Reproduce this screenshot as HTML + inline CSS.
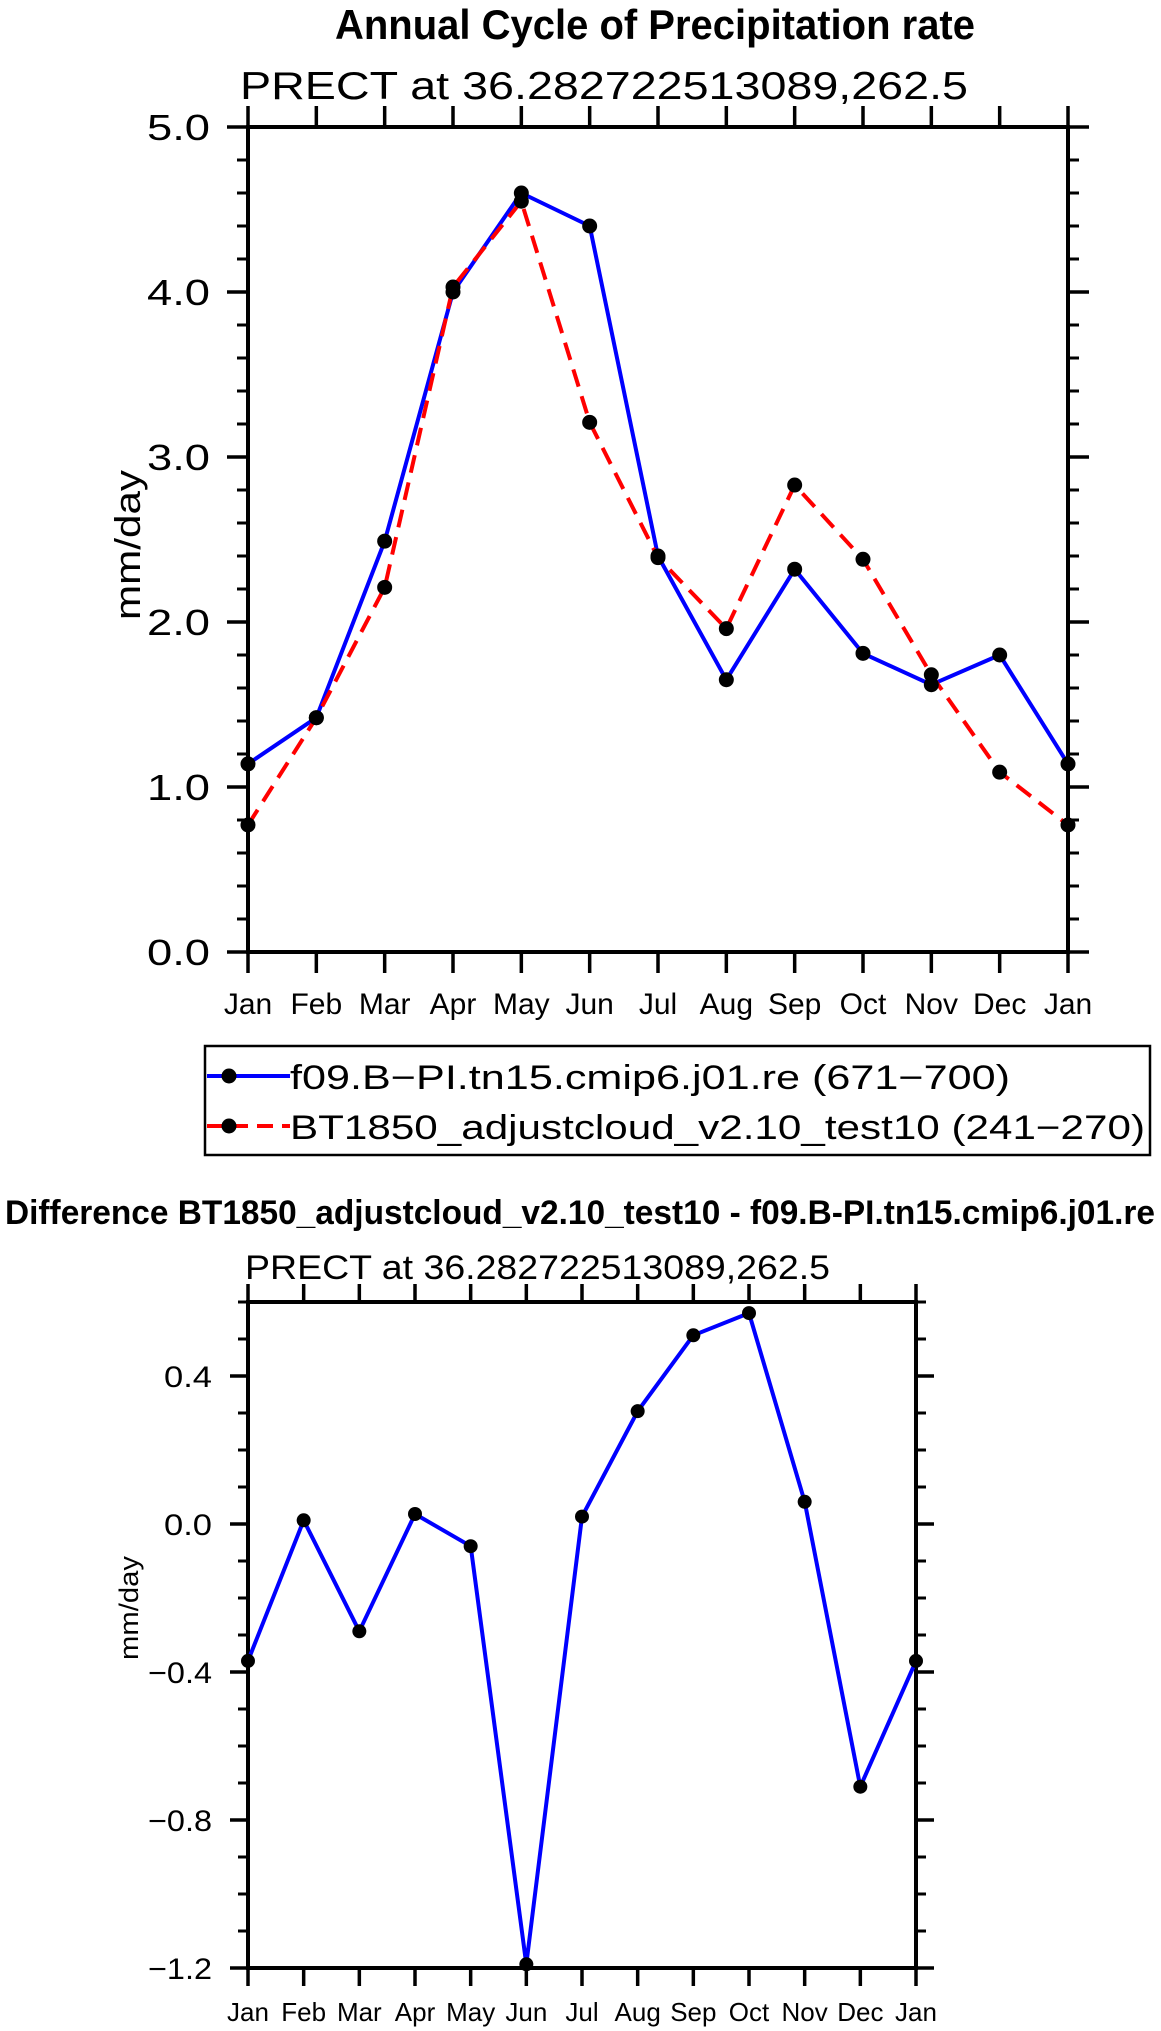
<!DOCTYPE html>
<html><head><meta charset="utf-8"><style>
html,body{margin:0;padding:0;background:#fff;}
svg{display:block;font-family:"Liberation Sans",sans-serif;}
</style></head><body>
<svg id="fig" width="1161" height="2031" viewBox="0 0 1161 2031">
<text x="335" y="39" font-size="42" font-weight="bold" textLength="640" lengthAdjust="spacingAndGlyphs">Annual Cycle of Precipitation rate</text>
<text x="240" y="99" font-size="39" textLength="728" lengthAdjust="spacingAndGlyphs">PRECT at 36.282722513089,262.5</text>
<text transform="translate(140,545) rotate(-90)" text-anchor="middle" font-size="36" textLength="150" lengthAdjust="spacingAndGlyphs">mm/day</text>
<g id="top"></g>
<g>
<rect x="205" y="1046" width="945" height="109" fill="none" stroke="#000" stroke-width="2.5"/>
<g>
<line x1="207" y1="1076" x2="290" y2="1076" stroke="#0000ff" stroke-width="4"/>
<circle cx="229" cy="1076" r="7.5"/>
<text x="290" y="1089" font-size="34" textLength="720" lengthAdjust="spacingAndGlyphs">f09.B−PI.tn15.cmip6.j01.re (671−700)</text>
</g>
<g>
<line x1="207" y1="1126" x2="290" y2="1126" stroke="#ff0000" stroke-width="4" stroke-dasharray="16,9"/>
<circle cx="229" cy="1126" r="7.5"/>
<text x="290" y="1139" font-size="34" textLength="855" lengthAdjust="spacingAndGlyphs">BT1850_adjustcloud_v2.10_test10 (241−270)</text>
</g>
</g>
<text x="5" y="1224" font-size="34" font-weight="bold" textLength="1150" lengthAdjust="spacingAndGlyphs">Difference BT1850_adjustcloud_v2.10_test10 - f09.B-PI.tn15.cmip6.j01.re</text>
<text x="245" y="1279" font-size="34" textLength="585" lengthAdjust="spacingAndGlyphs">PRECT at 36.282722513089,262.5</text>
<text transform="translate(138,1608) rotate(-90)" text-anchor="middle" font-size="27" textLength="104" lengthAdjust="spacingAndGlyphs">mm/day</text>
<g id="bot"></g>
</svg>
<script>
const months = ["Jan","Feb","Mar","Apr","May","Jun","Jul","Aug","Sep","Oct","Nov","Dec","Jan"];
const blueValues = [1.14,1.42,2.49,4.00,4.60,4.40,2.40,1.65,2.32,1.81,1.62,1.80,1.14];
const redValues = [0.77,1.42,2.21,4.03,4.55,3.21,2.39,1.96,2.83,2.38,1.68,1.09,0.77];
const topYTicks = [0,1,2,3,4,5];
const topYTickLabels = ["0.0","1.0","2.0","3.0","4.0","5.0"];
const diffValues = [-0.37,0.01,-0.29,0.027,-0.06,-1.19,0.02,0.305,0.51,0.57,0.06,-0.71,-0.37];
const botYTicks = [-1.2,-0.8,-0.4,0.0,0.4];
const botYTickLabels = ["−1.2","−0.8","−0.4","0.0","0.4"];

const NS="http://www.w3.org/2000/svg";
function mk(parent,tag,attrs){const e=document.createElementNS(NS,tag);for(const k in attrs)e.setAttribute(k,attrs[k]);parent.appendChild(e);return e;}

function chart(g,o){
  const xs=i=>o.x0+(o.x1-o.x0)*i/(months.length-1);
  const ys=v=>o.y1-(v-o.vmin)/(o.vmax-o.vmin)*(o.y1-o.y0);
  for(let v=o.vmin;v<=o.vmax+1e-9;v+=o.minor){
    const y=ys(v);
    const t1=mk(g,'line',{x1:o.x0-o.mnl,y1:y,x2:o.x0,y2:y,stroke:'#000','stroke-width':3});
    
    
    const t2=mk(g,'line',{x1:o.x1,y1:y,x2:o.x1+o.mnl,y2:y,stroke:'#000','stroke-width':3});
    
    
  }
  o.ticks.forEach((v,i)=>{
    const y=ys(v);
    const a=mk(g,'line',{x1:o.x0-o.mjl,y1:y,x2:o.x0,y2:y,stroke:'#000','stroke-width':3.5});
    
    
    const b=mk(g,'line',{x1:o.x1,y1:y,x2:o.x1+o.mjl,y2:y,stroke:'#000','stroke-width':3.5});
    
    
    const lab=o.tickLabels[i];
    const t=mk(g,'text',{x:o.ylabX,y:y+o.yfs*0.36,'text-anchor':'end','font-size':o.yfs,textLength:o.ycw*lab.length,lengthAdjust:'spacingAndGlyphs'});
    t.textContent=lab;
    
    
  });
  months.forEach((m,i)=>{
    const x=xs(i);
    const a=mk(g,'line',{x1:x,y1:o.y1,x2:x,y2:o.y1+o.mjl,stroke:'#000','stroke-width':3.5});
    
    
    const b=mk(g,'line',{x1:x,y1:o.y0-o.mjl,x2:x,y2:o.y0,stroke:'#000','stroke-width':3.5});
    
    
    const t=mk(g,'text',{x:x,y:o.xlabY,'text-anchor':'middle','font-size':o.xfs});
    t.textContent=m;
    
    
  });
  const fr=mk(g,'rect',{x:o.x0,y:o.y0,width:o.x1-o.x0,height:o.y1-o.y0,fill:'none',stroke:'#000','stroke-width':4});
  
  
  o.series.forEach(s=>{
    const pts=s.vals.map((v,i)=>xs(i).toFixed(1)+','+ys(v).toFixed(1)).join(' ');
    const pl=mk(g,'polyline',{points:pts,fill:'none',stroke:s.color,'stroke-width':4,'stroke-linejoin':'round'});
    if(s.dash)pl.setAttribute('stroke-dasharray',s.dash);
    
    
  });
  o.series.forEach(s=>{
    s.vals.forEach((v,i)=>{
      const c=mk(g,'circle',{cx:xs(i),cy:ys(v),r:o.r,fill:'#000'});
      
      
    });
  });
}
chart(document.getElementById('top'),{x0:248,x1:1068,y0:127,y1:952,vmin:0,vmax:5,minor:0.2,ticks:topYTicks,tickLabels:topYTickLabels,
  mjl:21,mnl:11,ylabX:210,yfs:36,ycw:21,xlabY:1014,xfs:30,r:7.5,
  series:[{vals:blueValues,color:'#0000ff',name:'blue-series'},{vals:redValues,color:'#ff0000',dash:'18,10',name:'red-series'}]});
chart(document.getElementById('bot'),{x0:248,x1:916,y0:1302,y1:1968,vmin:-1.2,vmax:0.6,minor:0.1,ticks:botYTicks,tickLabels:botYTickLabels,
  mjl:18,mnl:10,ylabX:212,yfs:30,ycw:16,xlabY:2021,xfs:26,r:7,
  series:[{vals:diffValues,color:'#0000ff',name:'difference-series'}]});
</script>
</body></html>
